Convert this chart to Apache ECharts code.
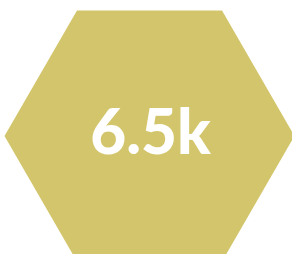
<!DOCTYPE html>
<html>
<head>
<meta charset="utf-8">
<script src="https://cdn.jsdelivr.net/npm/echarts@6/dist/echarts.min.js"></script>
<style>
  html, body { margin: 0; padding: 0; background: #fff; }
  #main { width: 292px; height: 254px; }
</style>
</head>
<body>
<div id="main"></div>
<script>
// single KPI tile
var labels = ['Total'];
var values = [6500];
var centerX = [149.5];
var centerY = [118];

function fmtK(v) {
    return (v / 1000).toFixed(1) + 'k';
}

var chart = echarts.init(document.getElementById('main'));
var option = {
    animation: false,
    grid: { left: 0, right: 0, top: 0, bottom: 0 },
    xAxis: { type: 'value', min: 0, max: 292, show: false },
    yAxis: { type: 'value', min: 0, max: 254, show: false },
    series: [
        {
            type: 'scatter',
            name: labels[0],
            symbol: 'path://M0,433 L250,0 L750,0 L1000,433 L750,866 L250,866 Z',
            symbolSize: [290, 251.2],
            itemStyle: { color: '#d3c56b', opacity: 1 },
            data: values.map(function (v, i) {
                return { value: [centerX[i], centerY[i]], raw: v };
            }),
            label: {
                show: true,
                position: 'inside',
                offset: [1, -2],
                color: '#ffffff',
                fontFamily: 'Lato',
                fontWeight: 900,
                fontSize: 62,
                formatter: function (p) { return fmtK(p.data.raw); }
            }
        }
    ]
};
chart.setOption(option);
</script>
</body>
</html>
